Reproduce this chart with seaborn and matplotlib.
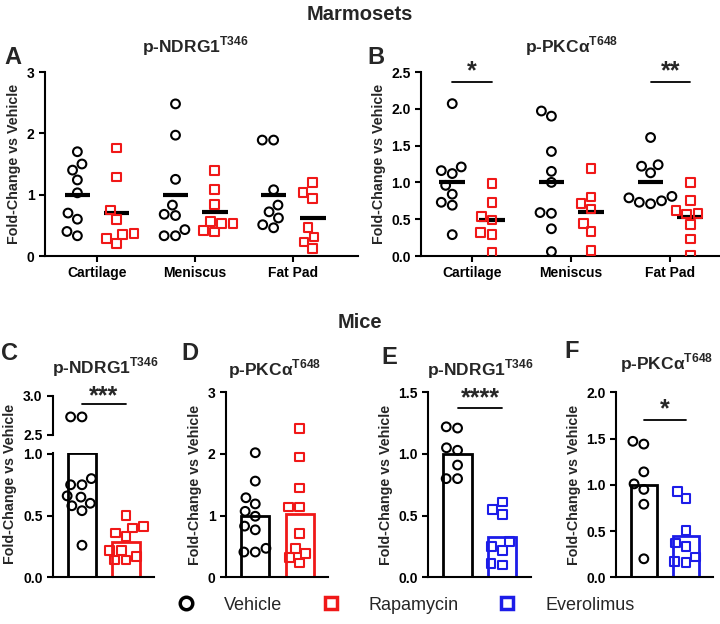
import matplotlib
matplotlib.use('Agg')
import numpy as np
import pandas as pd
import matplotlib.pyplot as plt
import seaborn as sns
from matplotlib.collections import PathCollection
from matplotlib.lines import Line2D

# ---- data ----
tissues = ['Cartilage', 'Meniscus', 'Fat Pad']

# A: marmoset p-NDRG1 T346
A_cart_veh = [1.70, 1.50, 1.40, 1.24, 1.03, 0.70, 0.60, 0.40, 0.33]
A_cart_rapa = [1.76, 1.29, 0.75, 0.60, 0.37, 0.35, 0.29, 0.20]
A_men_veh = [2.48, 1.97, 1.25, 0.83, 0.68, 0.66, 0.43, 0.33, 0.33]
A_men_rapa = [1.39, 1.08, 0.84, 0.56, 0.53, 0.53, 0.41, 0.39]
A_fat_veh = [1.89, 1.89, 1.08, 0.83, 0.72, 0.62, 0.51, 0.46]
A_fat_rapa = [1.20, 1.03, 0.94, 0.46, 0.31, 0.23, 0.12]

# B: marmoset p-PKCa T648
B_cart_veh = [2.07, 1.21, 1.16, 1.12, 0.96, 0.84, 0.73, 0.69, 0.29]
B_cart_rapa = [0.99, 0.73, 0.54, 0.49, 0.32, 0.29, 0.05]
B_men_veh = [1.97, 1.90, 1.42, 1.15, 1.00, 0.59, 0.58, 0.37, 0.06]
B_men_rapa = [1.19, 0.80, 0.71, 0.64, 0.44, 0.33, 0.07]
B_fat_veh = [1.61, 1.24, 1.22, 1.13, 0.81, 0.79, 0.75, 0.73, 0.71]
B_fat_rapa = [1.00, 0.75, 0.62, 0.58, 0.57, 0.43, 0.23, 0.01]

# C-F: mice
C_veh = [2.73, 2.73, 0.80, 0.75, 0.75, 0.66, 0.65, 0.60, 0.58, 0.54, 0.26]
C_rapa = [0.50, 0.41, 0.40, 0.36, 0.33, 0.22, 0.22, 0.17, 0.14, 0.14]
D_veh = [2.02, 1.56, 1.29, 1.19, 1.07, 0.99, 0.83, 0.77, 0.47, 0.41, 0.41]
D_rapa = [2.41, 1.95, 1.45, 1.14, 1.14, 0.71, 0.47, 0.38, 0.32, 0.23]
E_veh = [1.22, 1.21, 1.05, 1.03, 0.91, 0.80, 0.80]
E_evero = [0.61, 0.55, 0.51, 0.29, 0.25, 0.22, 0.11, 0.10]
F_veh = [1.47, 1.44, 1.14, 1.01, 0.95, 0.79, 0.20]
F_evero = [0.93, 0.85, 0.51, 0.37, 0.33, 0.22, 0.17, 0.16]

RED = '#f01818'
BLUE = '#1c1ce8'

sns.set_style('ticks')
plt.rcParams['font.family'] = ['Liberation Sans', 'DejaVu Sans']
plt.rcParams['mathtext.fontset'] = 'custom'
plt.rcParams['mathtext.rm'] = 'Liberation Sans:bold'
plt.rcParams['mathtext.bf'] = 'Liberation Sans:bold'
plt.rcParams['axes.linewidth'] = 1.5
plt.rcParams['axes.edgecolor'] = 'black'

TICK_FS = 10
YLAB_FS = 10.3
TITLE_FS = 12.5

fig = plt.figure(figsize=(7.2, 6.24), dpi=100)


def box(l, t, r, b):
    return [l / 720, 1 - b / 624, (r - l) / 720, (b - t) / 624]


def hollow(ax, n0, lw=1.5):
    for coll in ax.collections[n0:]:
        if isinstance(coll, PathCollection):
            fc = coll.get_facecolors()
            coll.set_edgecolors(fc)
            coll.set_facecolors('none')
            coll.set_linewidths(lw)


def style_axis(ax, ylim, yticks, ytl):
    ax.set_ylim(*ylim)
    ax.set_yticks(yticks)
    ax.set_yticklabels(ytl, fontsize=TICK_FS, fontweight='bold')
    ax.tick_params(axis='both', length=4, width=1.5, color='black', labelcolor='black')
    sns.despine(ax=ax)


def marm_panel(ax, veh, rapa, ylim, yticks, ytl):
    groups = ['Vehicle', 'Rapamycin']
    pal = {'Vehicle': 'black', 'Rapamycin': RED}
    rows = []
    for t, vv, rr in zip(tissues, veh, rapa):
        rows += [(t, 'Vehicle', v) for v in vv]
        rows += [(t, 'Rapamycin', v) for v in rr]
    df = pd.DataFrame(rows, columns=['tissue', 'group', 'value'])
    for g, m in zip(groups, ['o', 's']):
        n0 = len(ax.collections)
        sns.swarmplot(data=df[df.group == g], x='tissue', y='value', hue='group',
                      order=tissues, hue_order=groups, dodge=True, palette=pal,
                      marker=m, size=6.3, ax=ax, legend=False)
        hollow(ax, n0)
    means = df.groupby(['tissue', 'group'])['value'].mean()
    for i, t in enumerate(tissues):
        for off, g in zip([-0.2, 0.2], groups):
            ax.hlines(means[(t, g)], i + off - 0.13, i + off + 0.13, color='black', lw=3)
    style_axis(ax, ylim, yticks, ytl)
    ax.set_xticks(range(3))
    ax.set_xticklabels(tissues, fontsize=TICK_FS, fontweight='bold')
    ax.set_xlabel('')
    ax.set_ylabel('Fold-Change vs Vehicle', fontsize=YLAB_FS, fontweight='bold')


def mice_panel(ax, veh, trt, trt_name, color, bars=True, only=None):
    order = ['Vehicle', trt_name]
    pal = {'Vehicle': 'black', trt_name: color}
    df = pd.DataFrame({'group': ['Vehicle'] * len(veh) + [trt_name] * len(trt),
                       'value': veh + trt})
    if bars:
        sns.barplot(data=df, x='group', y='value', hue='group', order=order, hue_order=order,
                    palette=pal, fill=False, errorbar=None, width=0.63, linewidth=2,
                    legend=False, ax=ax)
    for g, m in zip(order, ['o', 's']):
        if only is not None and g != only:
            continue
        n0 = len(ax.collections)
        sns.swarmplot(data=df[df.group == g], x='group', y='value', hue='group',
                      order=order, hue_order=order, palette=pal, marker=m, size=6.3,
                      ax=ax, legend=False)
        hollow(ax, n0)
    ax.set_xlim(-0.66, 1.64)
    ax.set_xlabel('')
    ax.set_ylabel('')
    ax.tick_params(axis='x', bottom=False, labelbottom=False)


def sig(ax, x0, x1, y, ytext, stars, fs=18):
    ax.plot([x0, x1], [y, y], color='black', lw=1.3, clip_on=False)
    ax.text((x0 + x1) / 2, ytext, stars, ha='center', va='center', fontsize=fs,
            fontweight='bold', clip_on=False)


def title(x, y, s):
    fig.text(x / 720, 1 - y / 624, s, ha='center', va='center', fontsize=TITLE_FS, fontweight='bold')


def letter(x, y, s):
    fig.text(x / 720, 1 - y / 624, s, ha='center', va='center', fontsize=17, fontweight='bold')


# ---- Marmosets ----
fig.text(360 / 720, 1 - 15 / 624, 'Marmosets', ha='center', va='center', fontsize=14.5, fontweight='bold')

axA = fig.add_axes(box(45, 72, 358, 256))
marm_panel(axA, [A_cart_veh, A_men_veh, A_fat_veh], [A_cart_rapa, A_men_rapa, A_fat_rapa],
           (0, 3), [0, 1, 2, 3], ['0', '1', '2', '3'])
axA.set_xlim(-0.53, 2.66)
title(195, 46, 'p-NDRG1$^{\\mathbf{T346}}$')
letter(13, 57, 'A')

axB = fig.add_axes(box(421, 72, 719, 256))
marm_panel(axB, [B_cart_veh, B_men_veh, B_fat_veh], [B_cart_rapa, B_men_rapa, B_fat_rapa],
           (0, 2.5), [0, 0.5, 1.0, 1.5, 2.0, 2.5], ['0.0', '0.5', '1.0', '1.5', '2.0', '2.5'])
axB.set_xlim(-0.515, 2.49)
sig(axB, -0.2, 0.2, 2.36, 2.51, '*')
sig(axB, 1.8, 2.2, 2.36, 2.51, '**')
title(572, 46, 'p-PKCα$^{\\mathbf{T648}}$')
letter(376, 57, 'B')

# ---- Mice ----
fig.text(360 / 720, 1 - 322 / 624, 'Mice', ha='center', va='center', fontsize=14.5, fontweight='bold')

# C, broken y axis
axC = fig.add_axes(box(53, 452.7, 154, 577.3))
mice_panel(axC, C_veh, C_rapa, 'Rapamycin', RED)
style_axis(axC, (0, 1.01), [0, 0.5, 1.0], ['0.0', '0.5', '1.0'])
axC.tick_params(axis='x', bottom=False, labelbottom=False)
axCt = fig.add_axes(box(53, 395.7, 154, 435))
mice_panel(axCt, C_veh, C_rapa, 'Rapamycin', RED, bars=False, only='Vehicle')
style_axis(axCt, (2.5, 3.0), [2.5, 3.0], ['2.5', '3.0'])
axCt.spines['bottom'].set_visible(False)
axCt.tick_params(axis='x', bottom=False, labelbottom=False)
sig(axCt, 0, 1, 2.89, 2.99, '***')
fig.text(10 / 720, 1 - 484 / 624, 'Fold-Change vs Vehicle', rotation=90, ha='center', va='center',
         fontsize=YLAB_FS, fontweight='bold')
title(105, 367, 'p-NDRG1$^{\\mathbf{T346}}$')
letter(10, 353, 'C')

# D
axD = fig.add_axes(box(226, 392.3, 328, 577.3))
mice_panel(axD, D_veh, D_rapa, 'Rapamycin', RED)
style_axis(axD, (0, 3), [0, 1, 2, 3], ['0', '1', '2', '3'])
axD.tick_params(axis='x', bottom=False, labelbottom=False)
axD.set_ylabel('Fold-Change vs Vehicle', fontsize=YLAB_FS, fontweight='bold')
title(275, 369, 'p-PKCα$^{\\mathbf{T648}}$')
letter(190, 354, 'D')

# E
axE = fig.add_axes(box(428, 392.3, 531, 577.3))
mice_panel(axE, E_veh, E_evero, 'Everolimus', BLUE)
style_axis(axE, (0, 1.5), [0, 0.5, 1.0, 1.5], ['0.0', '0.5', '1.0', '1.5'])
axE.tick_params(axis='x', bottom=False, labelbottom=False)
axE.set_ylabel('Fold-Change vs Vehicle', fontsize=YLAB_FS, fontweight='bold')
sig(axE, 0, 1, 1.37, 1.45, '****')
title(480, 369, 'p-NDRG1$^{\\mathbf{T346}}$')
letter(389, 357, 'E')

# F
axF = fig.add_axes(box(616, 392.3, 713, 577.3))
mice_panel(axF, F_veh, F_evero, 'Everolimus', BLUE)
style_axis(axF, (0, 2.0), [0, 0.5, 1.0, 1.5, 2.0], ['0.0', '0.5', '1.0', '1.5', '2.0'])
axF.tick_params(axis='x', bottom=False, labelbottom=False)
axF.set_ylabel('Fold-Change vs Vehicle', fontsize=YLAB_FS, fontweight='bold')
sig(axF, 0, 1, 1.70, 1.82, '*')
title(667, 363, 'p-PKCα$^{\\mathbf{T648}}$')
letter(572, 352, 'F')

# ---- legend ----
handles = [
    Line2D([], [], marker='o', ls='none', mfc='none', mec='black', mew=2.5, ms=9),
    Line2D([], [], marker='s', ls='none', mfc='none', mec=RED, mew=2.5, ms=9),
    Line2D([], [], marker='s', ls='none', mfc='none', mec=BLUE, mew=2.5, ms=9),
]
fig.legend(handles, ['Vehicle', 'Rapamycin', 'Everolimus'], loc='center',
           bbox_to_anchor=(401 / 720, 1 - 605 / 624), ncol=3, frameon=False,
           fontsize=13, handletextpad=1.1, columnspacing=1.7)

fig.savefig('out.png', dpi=100)
